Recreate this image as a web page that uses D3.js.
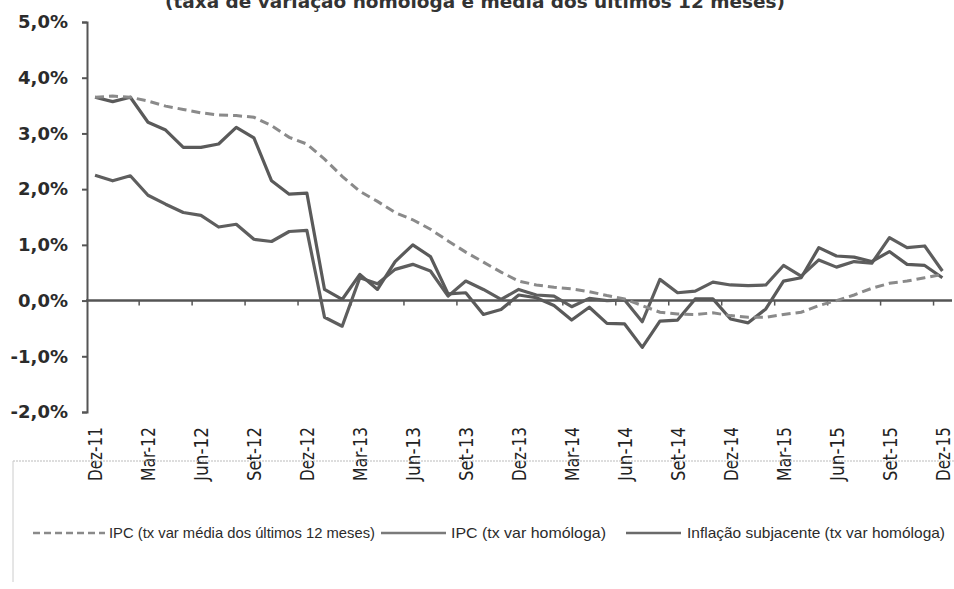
<!DOCTYPE html>
<meta charset="utf-8">
<style>
  body { margin: 0; background: #fff; }
</style>
<body>
<script src="https://cdnjs.cloudflare.com/ajax/libs/d3/7.8.5/d3.min.js"></script>
<script>
// months Dez-11 .. Dez-15
var months = ["Dez-11",
  "Jan-12","Fev-12","Mar-12","Abr-12","Mai-12","Jun-12","Jul-12","Ago-12","Set-12","Out-12","Nov-12","Dez-12",
  "Jan-13","Fev-13","Mar-13","Abr-13","Mai-13","Jun-13","Jul-13","Ago-13","Set-13","Out-13","Nov-13","Dez-13",
  "Jan-14","Fev-14","Mar-14","Abr-14","Mai-14","Jun-14","Jul-14","Ago-14","Set-14","Out-14","Nov-14","Dez-14",
  "Jan-15","Fev-15","Mar-15","Abr-15","Mai-15","Jun-15","Jul-15","Ago-15","Set-15","Out-15","Nov-15","Dez-15"];

var ipcMedia12 = [3.65,
  3.67, 3.65, 3.58, 3.49, 3.43, 3.37, 3.33, 3.32, 3.29, 3.14, 2.93, 2.81,
  2.54, 2.23, 1.96, 1.78, 1.58, 1.45, 1.28, 1.07, 0.87, 0.69, 0.51, 0.35,
  0.28, 0.24, 0.21, 0.16, 0.09, 0.03, -0.09, -0.21, -0.24, -0.25, -0.22, -0.27,
  -0.30, -0.30, -0.25, -0.21, -0.09, 0.00, 0.10, 0.22, 0.31, 0.35, 0.41, 0.47];

var ipcHomologa = [3.65,
  3.57, 3.65, 3.20, 3.06, 2.75, 2.75, 2.81, 3.11, 2.92, 2.15, 1.91, 1.93,
  0.20, 0.02, 0.47, 0.20, 0.70, 1.00, 0.79, 0.12, 0.14, -0.25, -0.16, 0.10,
  0.05, -0.09, -0.35, -0.12, -0.41, -0.42, -0.84, -0.37, -0.35, 0.03, 0.03, -0.33,
  -0.40, -0.15, 0.35, 0.41, 0.95, 0.80, 0.78, 0.70, 0.88, 0.65, 0.63, 0.41];

var subjacente = [2.25,
  2.15, 2.24, 1.89, 1.73, 1.58, 1.53, 1.32, 1.37, 1.10, 1.06, 1.24, 1.26,
  -0.30, -0.46, 0.41, 0.30, 0.56, 0.65, 0.53, 0.08, 0.35, 0.20, 0.02, 0.20,
  0.10, 0.08, -0.11, 0.04, 0.00, 0.01, -0.38, 0.38, 0.14, 0.17, 0.33, 0.28,
  0.27, 0.28, 0.63, 0.44, 0.73, 0.60, 0.70, 0.67, 1.13, 0.95, 0.98, 0.53];

var yTicks = [-2, -1, 0, 1, 2, 3, 4, 5];
var labelEvery = 3;
var legendLabels = ["IPC (tx var média dos últimos 12 meses)", "IPC (tx var homóloga)", "Inflação subjacente (tx var homóloga)"];
var titleText = "(taxa de variação homóloga e média dos últimos 12 meses)";

var width = 954, height = 589;
var svg = d3.select("body").append("svg")
  .attr("width", width)
  .attr("height", height)
  .style("font-family", "DejaVu Sans, sans-serif");

var x = d3.scaleBand().domain(months).range([86.2, 951.2]).padding(0);
var y = d3.scaleLinear().domain([-2, 5]).range([412, 22]);
var cx = function(m) { return x(m) + x.bandwidth() / 2; };

// title, cut off at the top as in the source
svg.append("text")
  .attr("x", 475).attr("y", 8)
  .attr("text-anchor", "middle")
  .attr("font-size", 17).attr("font-weight", "bold")
  .attr("fill", "#333")
  .attr("textLength", 620).attr("lengthAdjust", "spacingAndGlyphs")
  .text(titleText);

// y axis
var yAxis = svg.append("g")
  .attr("transform", "translate(87,0)")
  .call(d3.axisLeft(y).tickValues(yTicks).tickSize(5).tickPadding(14)
    .tickFormat(function(d) { return d.toFixed(1).replace(".", ",") + "%"; }));
yAxis.attr("font-family", null);
yAxis.select(".domain").attr("stroke", "#555").attr("stroke-width", 2);
yAxis.selectAll(".tick line").attr("stroke", "#555").attr("stroke-width", 2);
yAxis.selectAll(".tick text")
  .attr("font-size", 18).attr("font-weight", "bold")
  .attr("fill", "#2b2b2b");

// zero line with category ticks
svg.append("line")
  .attr("x1", 86).attr("x2", 952)
  .attr("y1", y(0)).attr("y2", y(0))
  .attr("stroke", "#555").attr("stroke-width", 2.5);

var tickIdx = d3.range(labelEvery, months.length, labelEvery);
svg.append("g").selectAll("line")
  .data(tickIdx)
  .enter().append("line")
  .attr("x1", function(i) { return x(months[i]); })
  .attr("x2", function(i) { return x(months[i]); })
  .attr("y1", y(0)).attr("y2", y(0) + 5)
  .attr("stroke", "#555").attr("stroke-width", 1.5);

// x labels, rotated
svg.append("g").selectAll("text")
  .data(months.filter(function(m, i) { return i % labelEvery === 0; }))
  .enter().append("text")
  .attr("transform", function(m) { return "translate(" + cx(m) + ",427) rotate(-90)"; })
  .attr("text-anchor", "end")
  .attr("dy", "0.36em")
  .attr("font-size", 20)
  .attr("fill", "#222")
  .attr("textLength", 54).attr("lengthAdjust", "spacingAndGlyphs")
  .text(function(m) { return m; });

// lines
var line = d3.line()
  .x(function(d) { return cx(d.m); })
  .y(function(d) { return y(d.v); });

function series(vals) {
  return vals.map(function(v, i) { return { m: months[i], v: v }; });
}

svg.append("path")
  .datum(series(subjacente))
  .attr("d", line)
  .attr("fill", "none").attr("stroke", "#5e5e5e").attr("stroke-width", 3.2)
  .attr("stroke-linejoin", "round");

svg.append("path")
  .datum(series(ipcHomologa))
  .attr("d", line)
  .attr("fill", "none").attr("stroke", "#5a5a5a").attr("stroke-width", 3.2)
  .attr("stroke-linejoin", "round");

svg.append("path")
  .datum(series(ipcMedia12))
  .attr("d", line)
  .attr("fill", "none").attr("stroke", "#8a8a8a").attr("stroke-width", 3)
  .attr("stroke-dasharray", "9,5");

// legend box
var lg = svg.append("g");
lg.append("line").attr("x1", 13).attr("x2", 954).attr("y1", 461).attr("y2", 461)
  .attr("stroke", "#bbb").attr("stroke-width", 1).attr("stroke-dasharray", "2,1");
lg.append("line").attr("x1", 13).attr("x2", 13).attr("y1", 461).attr("y2", 582)
  .attr("stroke", "#ccc").attr("stroke-width", 1);

var legendItems = [
  { x1: 33, x2: 105, tx: 109, tl: 266, dash: "7,4", color: "#8a8a8a" },
  { x1: 381, x2: 446, tx: 451, tl: 155, dash: null, color: "#7a7a7a" },
  { x1: 626, x2: 681, tx: 687, tl: 258, dash: null, color: "#6a6a6a" }
];
var ly = 533;
legendItems.forEach(function(it, i) {
  lg.append("line")
    .attr("x1", it.x1).attr("x2", it.x2).attr("y1", ly).attr("y2", ly)
    .attr("stroke", it.color).attr("stroke-width", 2.5)
    .attr("stroke-dasharray", it.dash);
  lg.append("text")
    .attr("x", it.tx).attr("y", ly).attr("dy", "0.35em")
    .style("font-family", "Liberation Sans Narrow, Liberation Sans, Arial, sans-serif")
    .attr("font-size", 15).attr("fill", "#2b2b2b")
    .attr("textLength", it.tl).attr("lengthAdjust", "spacingAndGlyphs")
    .text(legendLabels[i]);
});
</script>
</body>
